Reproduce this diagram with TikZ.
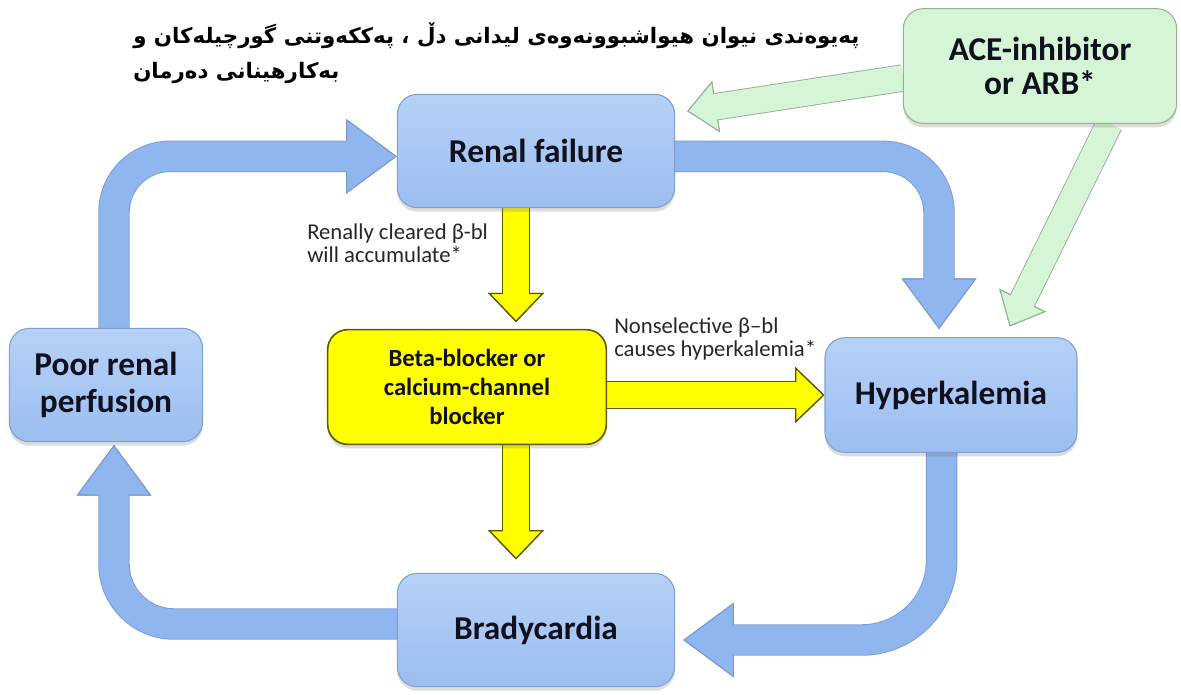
\documentclass[tikz,border=0pt]{standalone}
\usepackage{fontspec}
\setmainfont{Carlito}
\newfontfamily\kurdfont[Script=Arabic]{DejaVu Sans}
\TeXXeTstate=1
\usetikzlibrary{arrows.meta,shadows,backgrounds}

\definecolor{boxtop}{HTML}{B6D1F7}
\definecolor{boxbot}{HTML}{9BBEF0}
\definecolor{boxedge}{HTML}{809FD0}
\definecolor{bluefill}{HTML}{8FB6EE}
\definecolor{blueedge}{HTML}{7A9BD0}
\definecolor{yelfill}{HTML}{FFFF00}
\definecolor{yeledge}{HTML}{5E5A00}
\definecolor{grnfill}{HTML}{D6F5D6}
\definecolor{grnedge}{HTML}{93B393}
\definecolor{textdark}{HTML}{10101E}
\definecolor{labeldark}{HTML}{26262E}

\begin{document}
\begin{tikzpicture}[x=0.75pt, y=-0.75pt,
    box/.style={rounded corners=15pt, draw=boxedge, line width=0.8pt,
      top color=boxtop, bottom color=boxbot, text=textdark, align=center,
      font=\bfseries\fontsize{25}{28}\selectfont,
      drop shadow={shadow xshift=0pt, shadow yshift=-3pt, opacity=.25, fill=black!55}},
    drugbox/.style={box, top color=yelfill, bottom color=yelfill, draw=yeledge, line width=1.2pt,
      font=\bfseries\fontsize{18.5}{22}\selectfont},
    acebox/.style={box, top color=grnfill, bottom color=grnfill, draw=grnedge,
      font=\bfseries\fontsize{25}{26}\selectfont},
    note/.style={anchor=west, inner sep=0pt, align=left, text=labeldark,
      font=\fontsize{17}{17.5}\selectfont},
    title/.style={anchor=west, inner sep=0pt, text=black,
      font=\kurdfont\bfseries\fontsize{16}{18}\selectfont},
    blue arrow/.style={line width=22pt, draw=bluefill, rounded corners=#1,
      -{Triangle[length=38pt, width=56pt, fill=bluefill, color=blueedge, line width=0.8pt]},
      preaction={draw=blueedge, line width=23.6pt,
        -{Triangle[length=38pt, width=56pt, fill=bluefill, color=blueedge, line width=0.8pt]}},
      postaction={draw=bluefill, line width=22pt, arrows=-, shorten >=36pt}},
    yellow arrow/.style={line width=19pt, draw=yelfill,
      -{Triangle[length=22pt, width=42pt, fill=yelfill, color=yeledge, line width=1pt]},
      preaction={draw=yeledge, line width=21pt,
        -{Triangle[length=22pt, width=42pt, fill=yelfill, color=yeledge, line width=1pt]}},
      postaction={draw=yelfill, line width=19pt, arrows=-, shorten >=20pt}},
    green arrow/.style={line width=19pt, draw=grnfill,
      -{Triangle[length=22pt, width=39pt, fill=grnfill, color=grnedge, line width=0.8pt]},
      preaction={draw=grnedge, line width=20.6pt,
        -{Triangle[length=22pt, width=39pt, fill=grnfill, color=grnedge, line width=0.8pt]}},
      postaction={draw=grnfill, line width=19pt, arrows=-, shorten >=20pt}}]
  \useasboundingbox (0,0) rectangle (1181,694);

  % title
  \node[title] (title1) at (133,36) {\beginR پەیوەندی نیوان هیواشبوونەوەی لیدانی دڵ ، پەککەوتنی گورچیلەکان و\endR};
  \node[title] (title2) at (133,73) {\beginR بەکارهینانی دەرمان\endR};

  % boxes
  \node[box, minimum width=208pt, minimum height=85pt] (renal) at (536,151) {Renal failure};
  \node[box, minimum width=145pt, minimum height=85pt] (poor) at (106,385) {Poor renal\\perfusion};
  \node[drugbox, minimum width=209pt, minimum height=86pt] (beta) at (467,387) {Beta-blocker or\\calcium-channel\\blocker};
  \node[box, minimum width=189pt, minimum height=86pt] (hyper) at (951,395) {Hyperkalemia};
  \node[box, minimum width=208pt, minimum height=85pt] (brady) at (536,630) {Bradycardia};
  \node[acebox, minimum width=205pt, minimum height=86pt] (ace) at (1040,66) {ACE-inhibitor\\or ARB*};

  % notes
  \node[note] (cleared) at (307,243) {Renally cleared β-bl\\will accumulate*};
  \node[note] (nonsel) at (614,339) {Nonselective β–bl\\causes hyperkalemia*};

  \begin{scope}[on background layer]
    % the loop
    \draw[blue arrow=42pt] ([xshift=6pt]poor.north) |- ([yshift=-4pt]renal.west);
    \draw[blue arrow=42pt] ([yshift=-4pt]renal.east) -| ([xshift=-9pt,yshift=6pt]hyper.north);
    \draw[blue arrow=60pt] ([xshift=-7pt]hyper.south) |- ([xshift=6pt,yshift=-7.5pt]brady.east);
    \draw[blue arrow=45pt] ([yshift=4.5pt]brady.west) -| ([xshift=6pt,yshift=-2pt]poor.south);
    % drug effects
    \draw[yellow arrow] ([xshift=-15pt]renal.south) -- ([xshift=36.75pt,yshift=5pt]beta.north);
    \draw[yellow arrow] ([xshift=36.75pt]beta.south) -- ([xshift=-15pt,yshift=10pt]brady.north);
    \draw[yellow arrow] ([yshift=-6pt]beta.east) -- (hyper.west);
    \draw[green arrow] ([yshift=-9pt]ace.west) -- ([xshift=9pt,yshift=-13pt]renal.north east);
    \draw[green arrow] ([xshift=52pt]ace.south) -- ([xshift=44pt,yshift=8pt]hyper.north);
  \end{scope}
\end{tikzpicture}
\end{document}
